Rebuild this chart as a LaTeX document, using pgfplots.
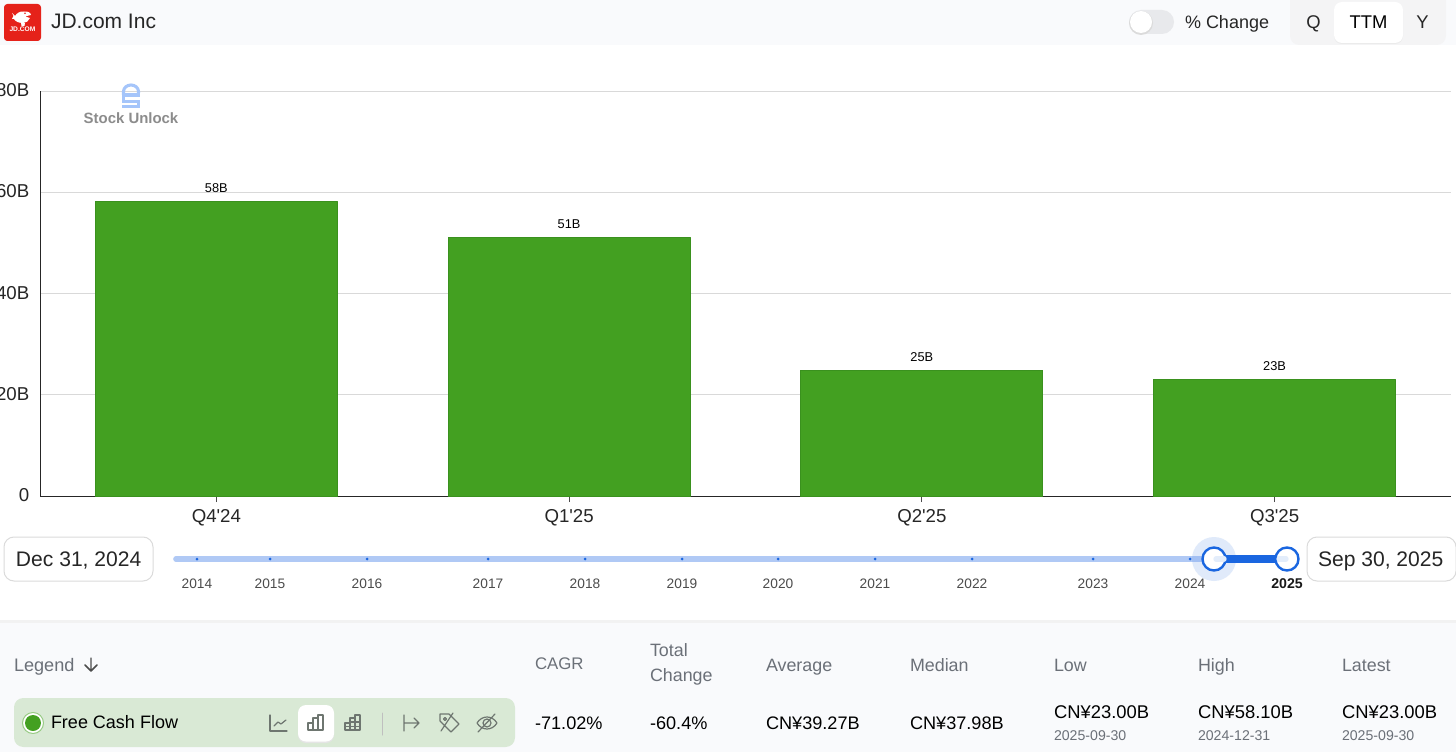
\documentclass[border=0pt]{standalone}
\usepackage{fontspec}
\setmainfont{Liberation Sans}[Ligatures=TeXOff]
\usepackage{pgfplots}
\pgfplotsset{compat=1.18}
\definecolor{barg}{RGB}{67,160,33}
\definecolor{bargd}{RGB}{58,145,30}
\definecolor{panel}{RGB}{249,250,252}
\definecolor{txt}{RGB}{38,38,38}
\definecolor{gtxt}{RGB}{107,112,120}
\definecolor{blu}{RGB}{26,102,224}
\definecolor{lblu}{RGB}{176,201,245}
\definecolor{wm}{RGB}{165,197,250}
\definecolor{icon}{RGB}{110,118,112}
\definecolor{jdred}{RGB}{229,34,26}
\newcommand\T[6][base west]{\node[anchor=#1,inner sep=0pt,outer sep=0pt,text=#5] at (#2,#3) {\fontsize{#4}{#4}\selectfont #6};}
\begin{document}
\begin{tikzpicture}[x=0.75pt,y=-0.75pt,line cap=round,line join=round]
\path[use as bounding box] (0,0) rectangle (1456,752);
\clip (0,0) rectangle (1456,752);
\fill[white] (0,0) rectangle (1456,752);
% header
\fill[panel] (0,0) rectangle (1456,45);
\fill[rounded corners=2.5pt,jdred] (4,4) rectangle (41,41);
\fill[white] (12,13) -- (15,16) .. controls (17,13) and (20,11) .. (24,11.5) .. controls (28,11) and (31,13) .. (31,15) -- (25,16.5) -- (30,18) .. controls (29,21) and (26,23) .. (23,23) .. controls (18,23) and (15,21) .. (14,19) -- (12,19) -- (13.5,16) -- cycle;
\fill[white] (21,23) -- (25,23) -- (24.5,26) -- (21.5,26) -- cycle;
\fill[jdred] (25,13.3) circle (0.9);
\T[center]{22.5}{29.5}{5}{white}{\bfseries JD.COM}
\T{51}{29}{15.75}{txt}{JD.com Inc}
% toggle
\fill[rounded corners=9pt,fill={rgb,255:red,232;green,233;blue,236}] (1129,10) rectangle (1174,34);
\fill[black!14] (1141,23) circle (12);
\fill[white] (1141,22) circle (11);
\T{1185}{29}{13.5}{txt}{\% Change}
% segmented
\fill[rounded corners=7pt,fill={rgb,255:red,244;green,244;blue,245}] (1290,-10) rectangle (1446,45);
\fill[rounded corners=6pt,black!8] (1334,3) rectangle (1403,44);
\fill[rounded corners=6pt,white] (1334,2) rectangle (1403,43);
\T[base]{1313.5}{29}{13.8}{txt}{Q}
\T[base]{1368.5}{29}{13.8}{black}{TTM}
\T[base]{1422.5}{29}{13.8}{txt}{Y}
% chart
\begin{axis}[
  at={(30pt,-372pt)},anchor=south west,scale only axis,
  width=1058.25pt,height=303.75pt,
  xmin=-0.5,xmax=3.5,ymin=0,ymax=80,
  axis x line*=bottom,axis y line*=left,
  axis line style={line width=0.75pt,color=black!85,-},
  xtick={0,1,2,3},xticklabels={Q4'24,Q1'25,Q2'25,Q3'25},
  ytick={0,20,40,60,80},yticklabels={0,20B,40B,60B,80B},
  ymajorgrids,grid style={line width=0.75pt,color=black!15},
  x tick style={color=black!70,line width=0.75pt},
  y tick style={draw=none},
  major tick length=4.5pt,
  tick align=outside,
  xticklabel style={font=\fontsize{14}{14}\selectfont,text=txt,yshift=-2.2pt},
  yticklabel style={font=\fontsize{14}{14}\selectfont,text=txt,xshift=0pt,yshift=0.6pt},
  ybar,bar width=181.5pt,bar shift=0pt,
  clip=false,
  nodes near coords,point meta=explicit symbolic,
  every node near coord/.append style={font=\fontsize{9.6}{9.6}\selectfont,text=black,inner sep=0pt,yshift=6.2pt},
]
\addplot[fill=barg,draw=bargd,line width=0.75pt] coordinates {(0,58.1)[58B] (1,51.1)[51B] (2,24.88)[25B] (3,23)[23B]};
\end{axis}
% watermark
\draw[wm,line width=2.3pt,line cap=butt] (123.5,95) -- (123.5,91.5) arc[start angle=180,end angle=360,x radius=7.5,y radius=6.5] -- (138.5,93);
\fill[wm] (122,93) rectangle (140,97);
\fill[wm] (122,97) rectangle (125,101);
\fill[wm] (122,100) rectangle (140,103);
\fill[wm] (137,103) rectangle (140,105);
\fill[wm] (122,105) rectangle (140,108);
\T[base]{131}{124}{11.2}{black!45}{\bfseries Stock Unlock}
% date boxes
\draw[black!14,line width=0.75pt,fill=white,rounded corners=7.5pt] (4,537) rectangle (153,581);
\T{16}{566}{15.8}{txt}{Dec 31, 2024}
\draw[black!14,line width=0.75pt,fill=white,rounded corners=7.5pt] (1307,537) rectangle (1456,581);
\T{1318}{566}{15.8}{txt}{Sep 30, 2025}
% slider
\draw[lblu,line width=4.2pt] (176,559) -- (1212,559);
\foreach \xx/\yy in {197/2014,270/2015,367/2016,488/2017,585/2018,682/2019,778/2020,875/2021,972/2022,1093/2023,1190/2024}{
  \fill[blu] (\xx,559) circle (1.5);
  \T[base]{\xx}{588}{10.3}{black!70}{\yy}
}
\T[base]{1287}{588}{10.6}{black!90}{\bfseries 2025}
\fill[blu!60!white,opacity=0.22] (1214,559) circle (22);
\draw[blu,line width=6pt,line cap=butt] (1214,559) -- (1287,559);
\draw[blu,line width=1.8pt,fill=white] (1214,559) circle (11.5);
\draw[blu,line width=1.8pt,fill=white] (1287,559) circle (11.5);
\draw[blu!12,line width=4pt] (1216,559) -- (1224,559);
\draw[blu!12,line width=4pt] (1279,559) -- (1286,559);
% bottom panel
\fill[black!5] (0,620) rectangle (1456,624);
\fill[panel] (0,623) rectangle (1456,752);
\T{14}{671}{13.6}{gtxt}{Legend}
\draw[black!70,line width=1.1pt] (91,658) -- (91,671) (85,665) -- (91,671) -- (97,665);
\T{535}{669}{12.6}{gtxt}{CAGR}
\T{650}{656}{13.4}{gtxt}{Total}
\T{650}{681}{13.4}{gtxt}{Change}
\T{766}{671}{13.4}{gtxt}{Average}
\T{910}{671}{13.4}{gtxt}{Median}
\T{1054}{671}{13.4}{gtxt}{Low}
\T{1198}{671}{13.4}{gtxt}{High}
\T{1342}{671}{13.4}{gtxt}{Latest}
% legend row
\fill[rounded corners=7pt,fill={rgb,255:red,217;green,233;blue,213}] (14,698) rectangle (515,747);
\draw[barg!55!white,line width=0.75pt,fill=white] (33,723) circle (10.5);
\fill[barg] (33,723) circle (8);
\T{51}{728}{13.5}{black}{Free Cash Flow}
% icons
\draw[icon,line width=0.9pt] (270,715) -- (270,731) -- (287,731);
\draw[icon,line width=0.9pt] (274,726) -- (278,722) -- (281,724) -- (286,720);
\fill[rounded corners=6pt,black!10] (298,706) rectangle (334,743);
\fill[rounded corners=6pt,white] (298,705) rectangle (334,741.5);
\draw[icon,line width=0.9pt] (308,730) rectangle (313,723) (313,730) rectangle (318,718) (318,730) rectangle (323,715);
\draw[icon,line width=0.9pt] (345,730) rectangle (350,723) (350,730) rectangle (355,718) (355,730) rectangle (360,715) (345,726.5) -- (360,726.5) (350,722) -- (360,722);
\draw[black!25,line width=0.75pt] (382,713) -- (382,735);
\draw[icon,line width=0.9pt] (404,715) -- (404,731) (404,723) -- (419,723) (414,718) -- (419,723) -- (414,728);
\draw[icon,line width=0.9pt] (440,714) -- (449,714) -- (459,724) -- (451,732) -- (440,721) -- cycle (445,719) circle (1.5) (453,713) -- (441,731);
\draw[icon,line width=0.9pt] (477,723) .. controls (482,715) and (492,715) .. (497,723) .. controls (492,731) and (482,731) .. (477,723) -- cycle;
\draw[icon,line width=0.9pt] (487,723) circle (4) (495,714) -- (478,732);
% stats
\T{535}{729}{13.6}{black}{-71.02\%}
\T{650}{729}{13.6}{black}{-60.4\%}
\T{766}{729}{13.6}{black}{CN¥39.27B}
\T{910}{729}{13.6}{black}{CN¥37.98B}
\T{1054}{718}{13.8}{black}{CN¥23.00B}
\T{1198}{718}{13.8}{black}{CN¥58.10B}
\T{1342}{718}{13.8}{black}{CN¥23.00B}
\T{1054}{740}{10.6}{gtxt}{2025-09-30}
\T{1198}{740}{10.6}{gtxt}{2024-12-31}
\T{1342}{740}{10.6}{gtxt}{2025-09-30}
\end{tikzpicture}
\end{document}
